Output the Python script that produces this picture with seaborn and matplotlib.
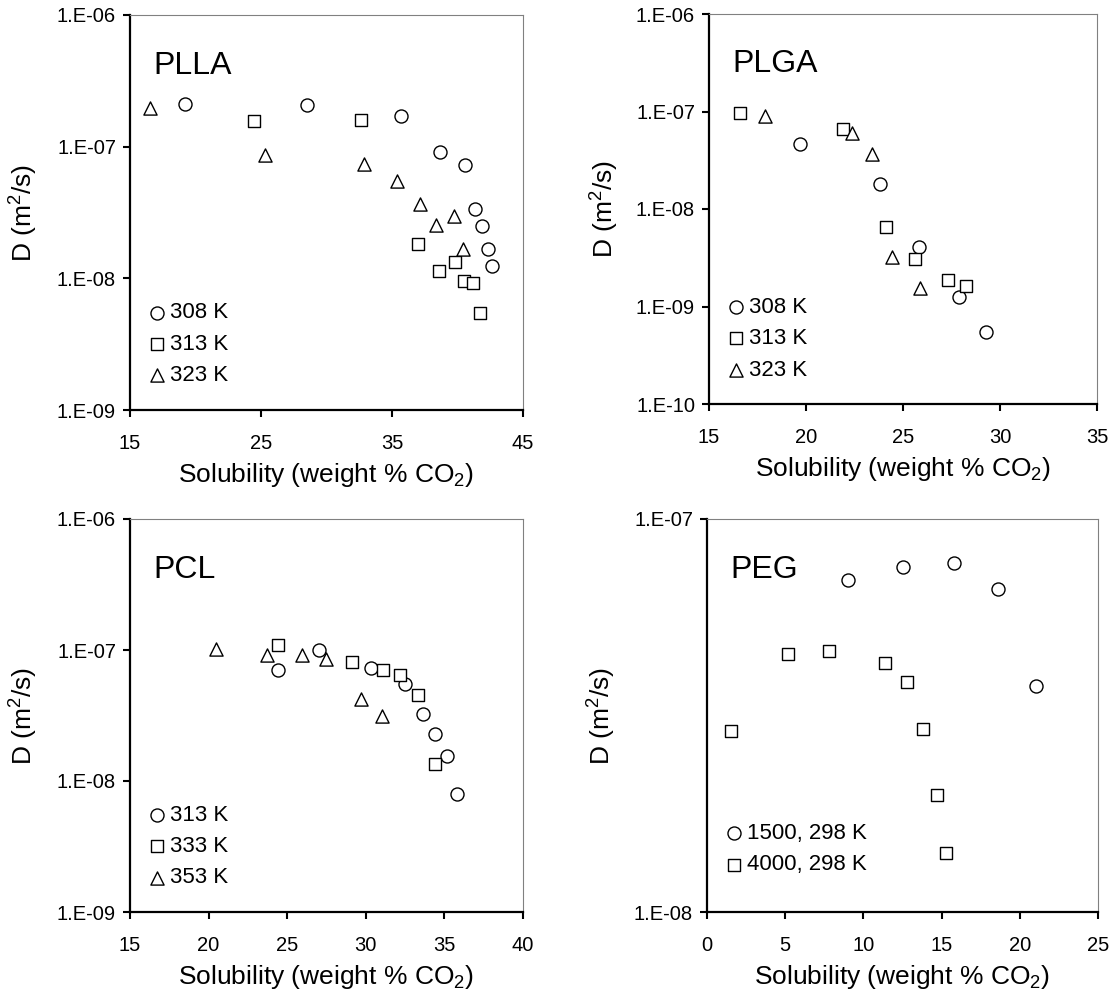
import numpy as np
import matplotlib
matplotlib.use("Agg")
import matplotlib.pyplot as plt
from matplotlib.ticker import FixedLocator, FuncFormatter, NullLocator
import seaborn as sns

# ---- data ----
# PLLA
plla_308_x = [19.2, 28.5, 35.7, 38.7, 40.6, 41.35, 41.9, 42.35, 42.6]
plla_308_y = [2.12e-7, 2.06e-7, 1.71e-7, 9.1e-8, 7.3e-8, 3.37e-8, 2.5e-8, 1.67e-8, 1.24e-8]
plla_313_x = [24.5, 32.6, 37.0, 38.6, 39.8, 40.5, 41.2, 41.7]
plla_313_y = [1.57e-7, 1.59e-7, 1.82e-8, 1.14e-8, 1.32e-8, 9.6e-9, 9.2e-9, 5.45e-9]
plla_323_x = [16.5, 25.3, 32.9, 35.35, 37.15, 38.35, 39.7, 40.4]
plla_323_y = [1.98e-7, 8.6e-8, 7.4e-8, 5.5e-8, 3.7e-8, 2.55e-8, 2.95e-8, 1.67e-8]

# PLGA
plga_308_x = [19.7, 23.8, 25.8, 27.9, 29.3]
plga_308_y = [4.67e-8, 1.8e-8, 4.06e-9, 1.25e-9, 5.5e-10]
plga_313_x = [16.6, 21.9, 24.1, 25.6, 27.3, 28.25]
plga_313_y = [9.6e-8, 6.6e-8, 6.5e-9, 3.1e-9, 1.88e-9, 1.64e-9]
plga_323_x = [17.9, 22.35, 23.4, 24.45, 25.9]
plga_323_y = [8.9e-8, 6.0e-8, 3.7e-8, 3.2e-9, 1.54e-9]

# PCL
pcl_313_x = [24.4, 27.05, 30.3, 32.5, 33.65, 34.4, 35.15, 35.8]
pcl_313_y = [7.0e-8, 1.0e-7, 7.3e-8, 5.5e-8, 3.25e-8, 2.27e-8, 1.56e-8, 7.9e-9]
pcl_333_x = [24.4, 29.1, 31.1, 32.2, 33.3, 34.4]
pcl_333_y = [1.09e-7, 8.15e-8, 7.0e-8, 6.4e-8, 4.5e-8, 1.35e-8]
pcl_353_x = [20.5, 23.7, 25.95, 27.45, 29.7, 31.0]
pcl_353_y = [1.02e-7, 9.1e-8, 9.1e-8, 8.6e-8, 4.2e-8, 3.15e-8]

# PEG
peg_1500_x = [9.0, 12.5, 15.8, 18.6, 21.05]
peg_1500_y = [6.98e-8, 7.55e-8, 7.73e-8, 6.64e-8, 3.75e-8]
peg_4000_x = [1.55, 5.15, 7.8, 11.4, 12.8, 13.8, 14.7, 15.3]
peg_4000_y = [2.88e-8, 4.53e-8, 4.62e-8, 4.3e-8, 3.84e-8, 2.93e-8, 1.98e-8, 1.41e-8]

panel_names = ["PLLA", "PLGA", "PCL", "PEG"]
xticks_list = [[15, 25, 35, 45], [15, 20, 25, 30, 35], [15, 20, 25, 30, 35, 40], [0, 5, 10, 15, 20, 25]]
yticks_list = [[1e-9, 1e-8, 1e-7, 1e-6], [1e-10, 1e-9, 1e-8, 1e-7, 1e-6],
               [1e-9, 1e-8, 1e-7, 1e-6], [1e-8, 1e-7]]

series = [
    [(plla_308_x, plla_308_y, "o", "308 K"), (plla_313_x, plla_313_y, "s", "313 K"),
     (plla_323_x, plla_323_y, "^", "323 K")],
    [(plga_308_x, plga_308_y, "o", "308 K"), (plga_313_x, plga_313_y, "s", "313 K"),
     (plga_323_x, plga_323_y, "^", "323 K")],
    [(pcl_313_x, pcl_313_y, "o", "313 K"), (pcl_333_x, pcl_333_y, "s", "333 K"),
     (pcl_353_x, pcl_353_y, "^", "353 K")],
    [(peg_1500_x, peg_1500_y, "o", "1500, 298 K"), (peg_4000_x, peg_4000_y, "s", "4000, 298 K")],
]

sns.set_style("ticks")
plt.rcParams["font.family"] = ["Liberation Sans", "DejaVu Sans"]
plt.rcParams["mathtext.fontset"] = "custom"
plt.rcParams["mathtext.rm"] = "Liberation Sans"
plt.rcParams["mathtext.it"] = "Liberation Sans:italic"
plt.rcParams["text.color"] = "black"
plt.rcParams["axes.labelcolor"] = "black"
plt.rcParams["xtick.color"] = "black"
plt.rcParams["ytick.color"] = "black"

fig = plt.figure(figsize=(11.12, 9.92), dpi=100)
W, H = 1112, 992
# left, right, top, bottom in pixels
boxes = [(130, 523, 15, 410), (709, 1097, 14, 404), (130, 523, 519, 912), (707, 1098, 519, 912)]
legend_y = [0.06, 0.06, 0.06, 0.093]

sizes = {"o": 88, "s": 80, "^": 90}

for i, (l, r, t, b) in enumerate(boxes):
    ax = fig.add_axes([l / W, (H - b) / H, (r - l) / W, (b - t) / H])
    for xs, ys, mk, lab in series[i]:
        sns.scatterplot(x=xs, y=ys, marker=mk, s=sizes[mk], color="white",
                        edgecolor="black", linewidth=1.0, label=lab, ax=ax, zorder=3)
    ax.set_yscale("log")
    xt = xticks_list[i]
    yt = yticks_list[i]
    ax.set_xlim(xt[0], xt[-1])
    ax.set_ylim(yt[0], yt[-1])
    ax.xaxis.set_major_locator(FixedLocator(xt))
    ax.yaxis.set_major_locator(FixedLocator(yt))
    ax.yaxis.set_minor_locator(NullLocator())
    ax.xaxis.set_minor_locator(NullLocator())
    ax.yaxis.set_major_formatter(FuncFormatter(lambda v, p: "1.E-%02d" % int(round(-np.log10(v)))))
    ax.tick_params(axis="both", direction="out", length=5, width=1.5, labelsize=14.5,
                   color="black", labelcolor="black")
    ax.tick_params(axis="x", pad=12)
    ax.tick_params(axis="y", pad=5)
    for side in ["left", "bottom"]:
        ax.spines[side].set_linewidth(1.6)
        ax.spines[side].set_color("black")
    for side in ["top", "right"]:
        ax.spines[side].set_linewidth(0.8)
        ax.spines[side].set_color("#808080")
    ax.set_xlabel("Solubility (weight % CO$_2$)", fontsize=19, color="black")
    ax.set_ylabel("D (m$^2$/s)", fontsize=19, color="black")
    ax.xaxis.set_label_coords(0.5, -0.13)
    ax.yaxis.set_label_coords(-0.228, 0.5)
    ax.text(0.06, 0.85, panel_names[i], transform=ax.transAxes, fontsize=23,
            va="baseline", ha="left", color="black")
    leg = ax.legend(loc="lower left", bbox_to_anchor=(0.043, legend_y[i]), frameon=False,
                    fontsize=16, handletextpad=0.14, handlelength=0.9, borderaxespad=0,
                    borderpad=0, labelspacing=0.47, scatterpoints=1)
    for txt in leg.get_texts():
        txt.set_color("black")

fig.savefig("out.png", dpi=100)
